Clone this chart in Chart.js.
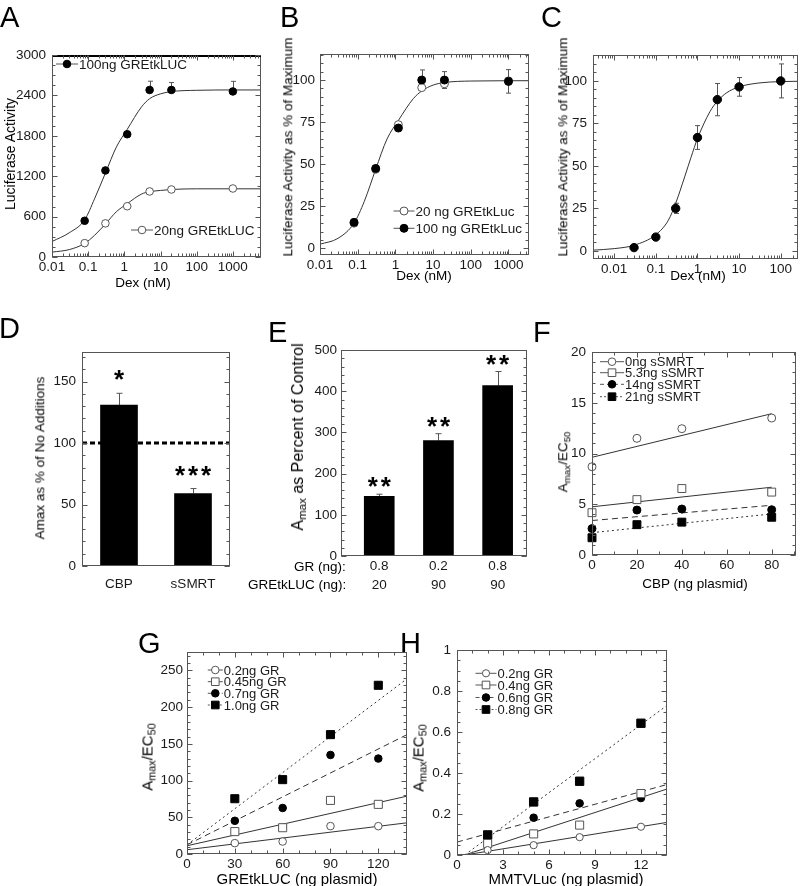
<!DOCTYPE html>
<html>
<head>
<meta charset="utf-8">
<script src="https://cdn.jsdelivr.net/npm/chart.js@4.4.1/dist/chart.umd.min.js"></script>
<style>
  body { margin: 0; background: #fff; }
  #fig { position: relative; width: 803px; height: 886px; overflow: hidden; font-family: "Liberation Sans", Arial, sans-serif; color: #000; }
  .pl { position: absolute; font-size: 29px; line-height: 29px; color: #000; will-change: transform; }
  .lbl { position: absolute; white-space: nowrap; font-size: 13.5px; line-height: 1; color: #000; will-change: transform; }
  .rot { transform: translate(-50%, -50%) rotate(-90deg); }
  .ctr { transform: translate(-50%, -50%); }
  sub { font-size: 72%; vertical-align: -0.3em; line-height: 0; }
</style>
</head>
<body>
<div id="fig">
  <div class="pl" style="left:0;top:3px">A</div>
  <div class="pl" style="left:280px;top:3px">B</div>
  <div class="pl" style="left:541px;top:3px">C</div>
  <div class="pl" style="left:-1px;top:314px">D</div>
  <div class="pl" style="left:268px;top:318px">E</div>
  <div class="pl" style="left:533px;top:318px">F</div>
  <div class="pl" style="left:138px;top:629px">G</div>
  <div class="pl" style="left:400px;top:629px">H</div>

  <div class="lbl rot" style="left:10px;top:154px;font-size:14px">Luciferase Activity</div>
  <div class="lbl ctr" style="left:143px;top:283px">Dex (nM)</div>
  <div class="lbl rot" style="left:288px;top:147px">Luciferase Activity as % of Maximum</div>
  <div class="lbl ctr" style="left:424px;top:276px">Dex (nM)</div>
  <div class="lbl rot" style="left:563px;top:147px">Luciferase Activity as % of Maximum</div>
  <div class="lbl ctr" style="left:698px;top:276px">Dex (nM)</div>

  <div class="lbl rot" style="left:40px;top:458px">Amax as % of No Additions</div>
  <div class="lbl rot" style="left:298px;top:437px;font-size:16px">A<sub>max</sub> as Percent of Control</div>
  <div class="lbl" style="right:457px;top:566.7px;transform:translateY(-50%)">GR (ng):</div>
  <div class="lbl" style="right:457px;top:585px;transform:translateY(-50%)">GREtkLUC (ng):</div>
  <div class="lbl rot" style="left:563px;top:462px;font-size:13.5px">A<sub>max</sub>/EC<sub>50</sub></div>
  <div class="lbl ctr" style="left:695px;top:584px">CBP (ng plasmid)</div>

  <div class="lbl rot" style="left:147px;top:757px;font-size:15px">A<sub>max</sub>/EC<sub>50</sub></div>
  <div class="lbl ctr" style="left:297px;top:878px;font-size:15px">GREtkLUC (ng plasmid)</div>
  <div class="lbl rot" style="left:418px;top:758px;font-size:15px">A<sub>max</sub>/EC<sub>50</sub></div>
  <div class="lbl ctr" style="left:566px;top:878px;font-size:15px">MMTVLuc (ng plasmid)</div>
</div>
<script>
// ---- A: luciferase activity vs Dex
const aDex = [0.08, 0.3, 1.2, 5, 20, 1000];
const a100 = [538, 1286, 1824, 2482, 2482, 2460];
const a100Err = [0, 0, 0, 130, 110, 150];
const a20 = [206, 500, 754, 974, 1003, 1018];
const aFitDex = [0.01, 0.03, 0.08, 0.15, 0.3, 0.6, 1.2, 3, 5, 10, 20, 100, 1000, 6000];
const aFit100 = [230, 360, 552, 864, 1248, 1632, 1896, 2232, 2352, 2424, 2458, 2477, 2482, 2482];
const aFit20 = [72, 110, 202, 322, 490, 672, 792, 936, 970, 989, 1003, 1013, 1013, 1013];
const aXTicks = [0.01, 0.1, 1, 10, 100, 1000];
const aYTicks = [0, 600, 1200, 1800, 2400, 3000];

// ---- B: % of maximum
const bDex = [0.08, 0.3, 1.2, 5, 20, 1000];
const b20 = [15, 47, 73.5, 95.5, 97.8, 99.5];
const b100 = [15.5, 47.5, 71.5, 100, 100, 99.2];
const b100Err = [0, 0, 0, 6, 5, 7];
const bFitDex = [0.01, 0.03, 0.08, 0.15, 0.3, 0.6, 1.2, 3, 5, 10, 20, 100, 3500];
const bFit = [2.5, 6, 15, 28, 47, 65, 76, 89, 93.5, 97, 98.5, 99.4, 99.6];
const pctTicks = [0, 25, 50, 75, 100];

// ---- C
const cDex = [0.03, 0.1, 0.3, 1, 3, 10, 100];
const cPct = [1.9, 8.1, 25, 66.7, 89, 96.5, 100];
const cErr = [0, 0, 3, 7, 9.5, 5.5, 10];
const cFitDex = [0.0031, 0.01, 0.03, 0.1, 0.2, 0.3, 0.5, 0.7, 1, 2, 3, 5, 10, 30, 100, 257];
const cFit = [0.4, 1.3, 3.3, 9.5, 18, 28, 44, 55, 66, 82, 88, 93, 96.5, 98.8, 99.6, 99.8];
const cXTicks = [0.01, 0.1, 1, 10, 100];

// ---- D
const dCats = ['CBP', 'sSMRT'];
const dAmax = [131, 59];
const dErr = [9.5, 4];
const dStars = ['*', '***'];
const dRef = 100;
const dYTicks = [0, 50, 100, 150];

// ---- E
const ePos = [1, 2, 3];
const eGR = ['0.8', '0.2', '0.8'];
const eGre = ['20', '90', '90'];
const eAmax = [145, 280, 414];
const eErr = [5, 17, 34];
const eStars = ['**', '**', '**'];
const eYTicks = [0, 100, 200, 300, 400, 500];

// ---- F
const fCBP = [0, 20, 40, 80];
const f0 = [8.7, 11.5, 12.45, 13.5];
const f53 = [4.17, 5.46, 6.55, 6.2];
const f14 = [2.6, 4.43, 4.53, 4.46];
const f21 = [1.7, 2.99, 3.24, 3.72];
const fFitX = [0, 80];
const fFit0 = [9.63, 13.93];
const fFit53 = [4.75, 6.68];
const fFit14 = [3.4, 4.9];
const fFit21 = [2.2, 4.05];
const fXTicks = [0, 20, 40, 60, 80];
const fYTicks = [0, 5, 10, 15, 20];

// ---- G
const gGre = [30, 60, 90, 120];
const g02 = [14.8, 17, 38, 37.9];
const g045 = [30.5, 35.8, 73, 67.6];
const g07 = [45.2, 62.7, 134.9, 130];
const g10 = [75.3, 101.3, 162.6, 229.8];
const gFitX = [0, 138];
const gFit02 = [5.8, 42.5];
const gFit045 = [11.2, 78.8];
const gFit07 = [12.5, 162.6];
const gFit10 = [12.5, 238.7];
const gXTicks = [0, 30, 60, 90, 120];
const gYTicks = [0, 50, 100, 150, 200, 250];

// ---- H
const hMmtv = [2, 5, 8, 12];
const h02 = [0.024, 0.048, 0.087, 0.138];
const h04 = [0.056, 0.103, 0.146, 0.30];
const h06 = [0.075, 0.182, 0.252, 0.278];
const h08 = [0.098, 0.259, 0.36, 0.643];
const hFitX = [0.5, 13.7];
const hFit06X = [0, 13.7];
const hFit02 = [0, 0.159];
const hFit04 = [0, 0.322];
const hFit06 = [0.063, 0.344];
const hFit08 = [0, 0.73];
const hXTicks = [0, 3, 6, 9, 12];
const hYTicks = [0, 0.2, 0.4, 0.6, 0.8, 1];

const FONT = '"Liberation Sans", Arial, sans-serif';
Chart.defaults.font.family = FONT;
Chart.defaults.font.size = 13.5;
Chart.defaults.color = '#1a1a1a';
const fig = document.getElementById('fig');

const pts = (xs, ys) => xs.map((x, i) => ({x, y: ys[i]}));
const mark = (style, fill, r) => ({
  pointStyle: style, pointRadius: r, pointHoverRadius: r, borderWidth: 1,
  borderColor: fill ? '#000' : '#555', backgroundColor: fill ? '#000' : '#fff',
  showLine: false, clip: false
});
const fit = (dash) => ({
  showLine: true, pointRadius: 0, borderWidth: 1, borderColor: '#333',
  borderDash: dash || [], cubicInterpolationMode: 'monotone', fill: false
});

function ax(o) {
  return {
    type: o.type || 'linear', min: o.min, max: o.max, offset: !!o.offset,
    grid: {display: false, drawTicks: false}, border: {display: false},
    afterBuildTicks: o.ticks ? (s => { s.ticks = o.ticks.map(v => ({value: v})); }) : undefined,
    ticks: {
      autoSkip: false, maxRotation: 0, padding: o.pad ?? 3, color: '#1a1a1a',
      font: {size: o.fs || 13.5, lineHeight: o.lh || 1.2},
      callback: o.cb || (v => String(v))
    }
  };
}

function marker(ctx, style, fill, x, y, r) {
  ctx.beginPath();
  if (style === 'rect') { const s = r * Math.SQRT1_2; ctx.rect(x - s, y - s, 2 * s, 2 * s); }
  else ctx.arc(x, y, r, 0, Math.PI * 2);
  ctx.fillStyle = fill ? '#000' : '#fff';
  ctx.fill();
  ctx.strokeStyle = fill ? '#000' : '#555';
  ctx.lineWidth = 1;
  ctx.stroke();
}

function seg(ctx, x1, y1, x2, y2) {
  ctx.beginPath(); ctx.moveTo(x1, y1); ctx.lineTo(x2, y2); ctx.stroke();
}

function minorVals(s, minor) {
  const out = [];
  if (minor === 'log') {
    for (let e = Math.floor(Math.log10(s.min)); e <= Math.ceil(Math.log10(s.max)); e++) {
      for (let k = 2; k <= 9; k++) {
        const v = k * Math.pow(10, e);
        if (v > s.min && v < s.max) out.push(v);
      }
    }
  } else if (minor) {
    for (let i = Math.ceil(s.min / minor - 1e-9); i * minor <= s.max + 1e-9; i++) out.push(i * minor);
  }
  return out;
}

// frame, inward ticks, error bars, legends, stars
function decor(d) {
  return {
    id: 'decor',
    beforeDatasetsDraw(chart) {
      const {ctx} = chart, y = chart.scales.y;
      ctx.save();
      ctx.strokeStyle = '#555';
      ctx.lineWidth = 1;
      (d.err || []).forEach(e => {
        const meta = chart.getDatasetMeta(e.ds), data = chart.data.datasets[e.ds].data;
        e.vals.forEach((v, i) => {
          if (!v) return;
          const el = meta.data[i];
          const val = typeof data[i] === 'object' ? data[i].y : data[i];
          const px = Math.round(el.x) + 0.5, top = y.getPixelForValue(val + v);
          const bot = e.up ? el.y : y.getPixelForValue(val - v);
          seg(ctx, px, bot, px, top);
          seg(ctx, px - e.cap, top, px + e.cap, top);
          if (!e.up) seg(ctx, px - e.cap, bot, px + e.cap, bot);
        });
      });
      ctx.restore();
    },
    afterDatasetsDraw(chart) {
      const {ctx, chartArea: a, scales: {x, y}} = chart;
      const l = Math.round(a.left) + 0.5, r = Math.round(a.right) - 0.5;
      const t = Math.round(a.top) + 0.5, b = Math.round(a.bottom) - 0.5;
      ctx.save();
      if (d.ref != null) {
        const py = y.getPixelForValue(d.ref);
        ctx.strokeStyle = '#000'; ctx.lineWidth = 3; ctx.setLineDash([5, 3]);
        seg(ctx, a.left, py, a.right, py);
        ctx.setLineDash([]);
      }
      ctx.strokeStyle = '#555'; ctx.lineWidth = 1;
      ctx.strokeRect(l, t, r - l, b - t);
      if (d.topThick) {
        ctx.strokeStyle = '#000'; ctx.lineWidth = 2;
        seg(ctx, a.left, a.top + 1, a.right, a.top + 1);
      }
      ctx.strokeStyle = '#555'; ctx.lineWidth = 1;
      const tick = (s, v, len) => {
        const p = Math.round(s.getPixelForValue(v)) + 0.5;
        if (s.isHorizontal()) { seg(ctx, p, b, p, b - len); seg(ctx, p, t, p, t + len); }
        else { seg(ctx, l, p, l + len, p); seg(ctx, r, p, r - len, p); }
      };
      [[x, d.xMinor, d.xTicks !== false], [y, d.yMinor, true]].forEach(([s, minor, on]) => {
        if (!on) return;
        s.ticks.forEach(tk => tick(s, tk.value, 5));
        minorVals(s, minor).forEach(v => tick(s, v, 3));
      });
      (d.legend || []).forEach(g => {
        const cx = g.x - d.ox, cy = g.y - d.oy;
        ctx.strokeStyle = '#555'; ctx.lineWidth = 1; ctx.setLineDash(g.dash || []);
        seg(ctx, cx - g.h, cy, cx + g.h, cy);
        ctx.setLineDash([]);
        marker(ctx, g.style, g.fill, cx, cy, g.r);
        ctx.fillStyle = '#1a1a1a';
        ctx.font = (g.fs || 13) + 'px ' + FONT;
        ctx.textBaseline = 'middle'; ctx.textAlign = 'left';
        ctx.fillText(g.text, cx + g.h + 1, cy + 1);
      });
      if (d.stars) {
        const meta = chart.getDatasetMeta(0), data = chart.data.datasets[0].data;
        ctx.fillStyle = '#000';
        ctx.font = 'bold 26px ' + FONT;
        ctx.textAlign = 'center'; ctx.textBaseline = 'alphabetic';
        const m = ctx.measureText('*');
        const off = (m.actualBoundingBoxAscent - m.actualBoundingBoxDescent) / 2;
        d.stars.text.forEach((s, i) => {
          const el = meta.data[i];
          const val = typeof data[i] === 'object' ? data[i].y : data[i];
          const cy = y.getPixelForValue(val + d.stars.err[i]) - d.stars.gap;
          for (let k = 0; k < s.length; k++) {
            ctx.fillText('*', el.x + (k - (s.length - 1) / 2) * d.stars.sp, cy + off);
          }
        });
      }
      ctx.restore();
    }
  };
}

// r: plot area in page px [x1,y1,x2,y2]; m: canvas margins [left,top,right,bottom]
function panel(r, m, cfg, d) {
  const [x1, y1, x2, y2] = r, [ml, mt, mr, mb] = m;
  const W = x2 - x1 + ml + mr, H = y2 - y1 + mt + mb;
  const cv = document.createElement('canvas');
  cv.width = W; cv.height = H;
  cv.style.cssText = `position:absolute;left:${x1 - ml}px;top:${y1 - mt}px;width:${W}px;height:${H}px`;
  fig.appendChild(cv);
  const o = cfg.options;
  o.responsive = false;
  o.animation = false;
  o.events = [];
  o.layout = {padding: {top: mt, right: mr, left: 0, bottom: 0}};
  o.scales.x.afterFit = s => { s.height = mb; };
  o.scales.y.afterFit = s => { s.width = ml; };
  o.plugins = {legend: {display: false}, tooltip: {enabled: false}};
  d.ox = x1 - ml; d.oy = y1 - mt;
  cfg.plugins = [decor(d)];
  return new Chart(cv, cfg);
}

// A
panel([52, 51, 261, 257], [45, 10, 10, 30], {
  type: 'scatter',
  data: {datasets: [
    {data: pts(aDex, a100), ...mark('circle', true, 3.8)},
    {data: pts(aDex, a20), ...mark('circle', false, 3.8)},
    {data: pts(aFitDex, aFit100), ...fit()},
    {data: pts(aFitDex, aFit20), ...fit()}
  ]},
  options: {scales: {
    x: ax({type: 'logarithmic', min: 0.01, max: 6000, ticks: aXTicks, pad: 2}),
    y: ax({min: 0, max: 3000, ticks: aYTicks, pad: 6})
  }}
}, {
  xMinor: 'log', yMinor: 150, topThick: true,
  err: [{ds: 0, vals: a100Err, up: true, cap: 2.5}],
  legend: [
    {x: 67, y: 64, style: 'circle', fill: true, r: 3.8, h: 11, fs: 13.5, text: '100ng GREtkLUC'},
    {x: 142, y: 230, style: 'circle', fill: false, r: 3.8, h: 11, fs: 13.5, text: '20ng GREtkLUC'}
  ]
});

// B
panel([320, 51, 529, 255], [45, 10, 10, 30], {
  type: 'scatter',
  data: {datasets: [
    {data: pts(bDex, b100), ...mark('circle', true, 4)},
    {data: pts(bDex, b20), ...mark('circle', false, 4)},
    {data: pts(bFitDex, bFit), ...fit()}
  ]},
  options: {scales: {
    x: ax({type: 'logarithmic', min: 0.01, max: 3500, ticks: aXTicks, pad: 2}),
    y: ax({min: -3.9, max: 115.4, ticks: pctTicks, pad: 5})
  }}
}, {
  xMinor: 'log', yMinor: 5,
  err: [{ds: 0, vals: b100Err, cap: 2.5}],
  legend: [
    {x: 404, y: 211, style: 'circle', fill: false, r: 4, h: 10.5, fs: 13.5, text: '20 ng GREtkLuc'},
    {x: 404, y: 228.3, style: 'circle', fill: true, r: 4, h: 10.5, fs: 13.5, text: '100 ng GREtkLuc'}
  ]
});

// C
panel([593, 51, 801, 259], [45, 10, 2, 30], {
  type: 'scatter',
  data: {datasets: [
    {data: pts(cDex, cPct), ...mark('circle', true, 4.2)},
    {data: pts(cFitDex, cFit), ...fit()}
  ]},
  options: {scales: {
    x: ax({type: 'logarithmic', min: 0.0031, max: 257, ticks: cXTicks, pad: 2}),
    y: ax({min: -4.8, max: 115.2, ticks: pctTicks, pad: 6})
  }}
}, {
  xMinor: 'log', yMinor: 5,
  err: [{ds: 0, vals: cErr, cap: 2.5}]
});

// D
panel([82, 348, 230, 566], [45, 10, 10, 35], {
  type: 'bar',
  data: {labels: dCats, datasets: [{data: dAmax, backgroundColor: '#000', barThickness: 37}]},
  options: {scales: {
    x: ax({type: 'category', offset: true, pad: 10, cb: (v, i) => dCats[i]}),
    y: ax({min: 0, max: 174, ticks: dYTicks, pad: 6})
  }}
}, {
  xTicks: false, yMinor: 10, ref: dRef,
  err: [{ds: 0, vals: dErr, up: true, cap: 3}],
  stars: {text: dStars, err: dErr, gap: 18, sp: 13}
});

// E
panel([341, 348, 527, 556], [45, 10, 10, 45], {
  type: 'bar',
  data: {datasets: [{data: pts(ePos, eAmax), backgroundColor: '#000', barThickness: 30}]},
  options: {scales: {
    x: ax({min: 0.354, max: 3.496, ticks: ePos, pad: 1.5, lh: 1.36, cb: (v, i) => [eGR[i], eGre[i]]}),
    y: ax({min: 0, max: 500, ticks: eYTicks, pad: 4})
  }}
}, {
  xTicks: false, yMinor: 20,
  err: [{ds: 0, vals: eErr, up: true, cap: 3}],
  stars: {text: eStars, err: eErr, gap: 12, sp: 13}
});

// F
panel([592, 348, 801, 555], [45, 10, 2, 30], {
  type: 'scatter',
  data: {datasets: [
    {data: pts(fCBP, f0), ...mark('circle', false, 4)},
    {data: pts(fCBP, f53), ...mark('rect', false, 5.6)},
    {data: pts(fCBP, f14), ...mark('circle', true, 4)},
    {data: pts(fCBP, f21), ...mark('rect', true, 5.6)},
    {data: pts(fFitX, fFit0), ...fit()},
    {data: pts(fFitX, fFit53), ...fit()},
    {data: pts(fFitX, fFit14), ...fit([6, 4])},
    {data: pts(fFitX, fFit21), ...fit([2, 3])}
  ]},
  options: {scales: {
    x: ax({min: 0, max: 91, ticks: fXTicks, pad: 2}),
    y: ax({min: 0, max: 20, ticks: fYTicks, pad: 6})
  }}
}, {
  xMinor: 10, yMinor: 1,
  legend: [
    {x: 612, y: 361.7, style: 'circle', fill: false, r: 3.8, h: 12, text: '0ng sSMRT'},
    {x: 612, y: 372.7, style: 'rect', fill: false, r: 5.4, h: 12, text: '5.3ng sSMRT'},
    {x: 612, y: 384.3, style: 'circle', fill: true, r: 3.8, h: 12, dash: [4, 3], text: '14ng sSMRT'},
    {x: 612, y: 396.7, style: 'rect', fill: true, r: 5.4, h: 12, dash: [2, 2], text: '21ng sSMRT'}
  ]
});

// G
panel([187, 650, 407, 854], [45, 10, 10, 30], {
  type: 'scatter',
  data: {datasets: [
    {data: pts(gGre, g02), ...mark('circle', false, 3.8)},
    {data: pts(gGre, g045), ...mark('rect', false, 5.7)},
    {data: pts(gGre, g07), ...mark('circle', true, 3.8)},
    {data: pts(gGre, g10), ...mark('rect', true, 5.7)},
    {data: pts(gFitX, gFit02), ...fit()},
    {data: pts(gFitX, gFit045), ...fit()},
    {data: pts(gFitX, gFit07), ...fit([6, 4])},
    {data: pts(gFitX, gFit10), ...fit([2, 3])}
  ]},
  options: {scales: {
    x: ax({min: 0, max: 138, ticks: gXTicks, pad: 2}),
    y: ax({min: 0, max: 275, ticks: gYTicks, pad: 4})
  }}
}, {
  xMinor: 10, yMinor: 10,
  legend: [
    {x: 215.3, y: 670, style: 'circle', fill: false, r: 3.8, h: 7.5, text: '0.2ng GR'},
    {x: 215.3, y: 681.7, style: 'rect', fill: false, r: 5.4, h: 7.5, text: '0.45ng GR'},
    {x: 215.3, y: 693.3, style: 'circle', fill: true, r: 3.8, h: 7.5, dash: [4, 3], text: '0.7ng GR'},
    {x: 215.3, y: 705, style: 'rect', fill: true, r: 5.4, h: 7.5, dash: [2, 2], text: '1.0ng GR'}
  ]
});

// H
panel([457, 646, 667, 855], [45, 10, 10, 30], {
  type: 'scatter',
  data: {datasets: [
    {data: pts(hMmtv, h02), ...mark('circle', false, 3.6)},
    {data: pts(hMmtv, h04), ...mark('rect', false, 5.7)},
    {data: pts(hMmtv, h06), ...mark('circle', true, 3.8)},
    {data: pts(hMmtv, h08), ...mark('rect', true, 5.9)},
    {data: pts(hFitX, hFit02), ...fit()},
    {data: pts(hFitX, hFit04), ...fit()},
    {data: pts(hFit06X, hFit06), ...fit([6, 4])},
    {data: pts(hFitX, hFit08), ...fit([2, 3])}
  ]},
  options: {scales: {
    x: ax({min: 0, max: 13.7, ticks: hXTicks, pad: 2}),
    y: ax({min: 0, max: 1, ticks: hYTicks, pad: 6})
  }}
}, {
  xMinor: 1, yMinor: 0.05,
  legend: [
    {x: 486, y: 673.3, style: 'circle', fill: false, r: 3.6, h: 10.5, text: '0.2ng GR'},
    {x: 486, y: 685, style: 'rect', fill: false, r: 5.4, h: 10.5, text: '0.4ng GR'},
    {x: 486, y: 697.5, style: 'circle', fill: true, r: 3.8, h: 10.5, dash: [4, 3], text: '0.6ng GR'},
    {x: 486, y: 709.5, style: 'rect', fill: true, r: 5.4, h: 10.5, dash: [2, 2], text: '0.8ng GR'}
  ]
});
</script>
</body>
</html>
